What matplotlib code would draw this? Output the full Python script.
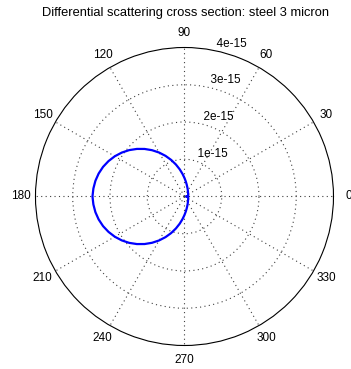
import numpy as np
import matplotlib
matplotlib.use("Agg")
import matplotlib.pyplot as plt

# Data (angle in degrees, cross section in units of 1e-15)
angles_deg = list(range(0, 365, 5))
upper_half = [0.06, 0.085, 0.10, 0.103, 0.106, 0.109, 0.114, 0.120, 0.127, 0.136, 0.147,
              0.162, 0.181, 0.205, 0.236, 0.277, 0.332, 0.404, 0.496, 0.609, 0.742, 0.888,
              1.044, 1.203, 1.362, 1.517, 1.666, 1.806, 1.937, 2.055, 2.160, 2.250, 2.326,
              2.385, 2.428, 2.455, 2.47]
lower_half = [2.455, 2.428, 2.385, 2.326, 2.250, 2.160, 2.055, 1.937, 1.806, 1.666, 1.517,
              1.362, 1.203, 1.044, 0.888, 0.742, 0.609, 0.496, 0.404, 0.332, 0.277, 0.236,
              0.205, 0.181, 0.162, 0.147, 0.136, 0.127, 0.120, 0.114, 0.109, 0.106, 0.103,
              0.10, 0.085, 0.06]
sigma_e15 = upper_half + lower_half
ring_values = [1e-15, 2e-15, 3e-15, 4e-15]
ring_labels = ["1e-15", "2e-15", "3e-15", "4e-15"]
angle_ticks = list(range(0, 360, 30))
title = "Differential scattering cross section: steel 3 micron"

plt.rcParams['font.family'] = ['Liberation Sans', 'DejaVu Sans']
FS = 8.5

fig = plt.figure(figsize=(3.51, 3.69), dpi=100)
fig.patch.set_facecolor('white')
ax = fig.add_axes([0.1011, 0.0637, 0.849, 0.8076], projection='polar')
ax.set_ylim(0, ring_values[-1])

theta = np.deg2rad(angles_deg)
r = np.array(sigma_e15) * 1e-15
ax.plot(theta, r, color=(0, 0, 1), lw=1.6, zorder=3)

ax.set_rgrids(ring_values[:-1])
ax.set_thetagrids(angle_ticks)
ax.set_yticklabels([])
ax.set_xticklabels([])
ax.grid(True, color='0.25', linestyle=(0, (1, 3)), linewidth=0.8)
ax.spines['polar'].set_color('black')
ax.spines['polar'].set_linewidth(0.8)
ax.tick_params(length=0)

rmax = ring_values[-1]
for a in angle_ticks:
    ax.text(np.deg2rad(a), 1.1 * rmax, str(a), ha='center', va='center',
            fontsize=FS, color='black', clip_on=False)
for v, lab in zip(ring_values, ring_labels):
    ax.text(np.deg2rad(80), v, "  " + lab, ha='left', va='bottom',
            fontsize=FS, color='black', clip_on=False)

fig.text(185 / 351, 1 - 13 / 369, title, ha='center', va='center', fontsize=9.3, color='black')

fig.savefig("out.png", dpi=100, facecolor='white')
